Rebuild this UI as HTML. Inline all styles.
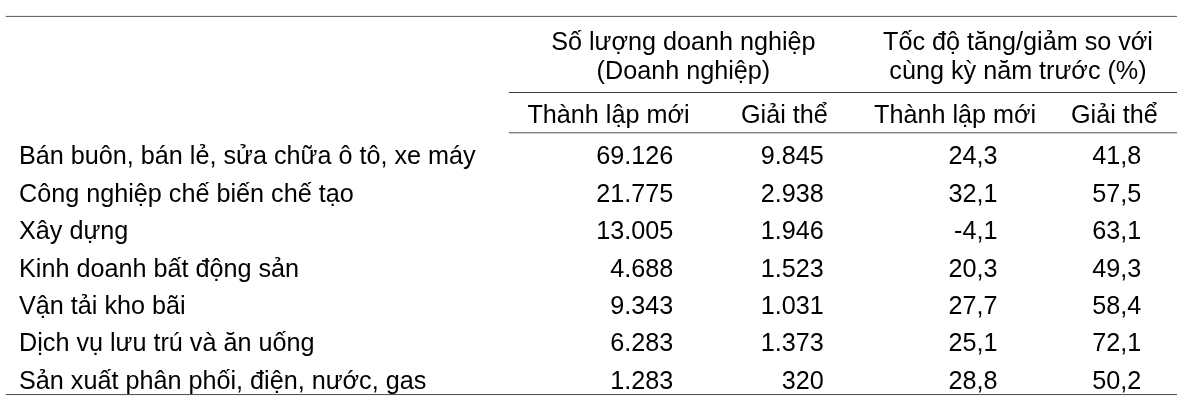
<!DOCTYPE html>
<html lang="vi">
<head>
<meta charset="utf-8">
<title>Bảng doanh nghiệp</title>
<style>
html,body{margin:0;padding:0;background:#fff;}
body{width:1200px;height:407px;position:relative;overflow:hidden;font-family:"Liberation Sans",Arial,sans-serif;font-size:25.2px;color:#000;}
.r{position:absolute;height:1px;background:#5a5a5a;}
.t{position:absolute;white-space:nowrap;line-height:30px;}
.c{text-align:center;}
.n{text-align:right;}
</style>
</head>
<body>
<svg width="1200" height="407" viewBox="0 0 1200 407" style="position:absolute;left:0;top:0" aria-hidden="true">
<rect x="5.7" y="15.9" width="1171.3" height="1" fill="#585858"/>
<rect x="508.9" y="92" width="668.1" height="1" fill="#3c3c3c"/>
<rect x="508.9" y="132.3" width="668.1" height="1" fill="#505050"/>
<rect x="5.7" y="394" width="1171.3" height="1.06" fill="#555555"/>
</svg>

<div class="t c" style="left:507.4px;width:352px;top:25.77px">Số lượng doanh nghiệp</div>
<div class="t c" style="left:507.4px;width:352px;top:54.97px">(Doanh nghiệp)</div>
<div class="t c" style="left:855px;width:326px;top:25.77px">Tốc độ tăng/giảm so với</div>
<div class="t c" style="left:855px;width:326px;top:54.97px">cùng kỳ năm trước (%)</div>

<div class="t" style="left:527.4px;top:98.77px">Thành lập mới</div>
<div class="t" style="left:741px;top:98.77px">Giải thể</div>
<div class="t" style="left:874px;top:98.77px">Thành lập mới</div>
<div class="t" style="left:1071px;top:98.77px">Giải thể</div>

<div class="t" style="left:19.0px;top:140.17px">Bán buôn, bán lẻ, sửa chữa ô tô, xe máy</div>
<div class="t n" style="left:543.3px;width:130px;top:140.17px">69.126</div>
<div class="t n" style="left:693.8px;width:130px;top:140.17px">9.845</div>
<div class="t n" style="left:867.5px;width:130px;top:140.17px">24,3</div>
<div class="t n" style="left:1011.2px;width:130px;top:140.17px">41,8</div>
<div class="t" style="left:19.0px;top:177.62px">Công nghiệp chế biến chế tạo</div>
<div class="t n" style="left:543.3px;width:130px;top:177.62px">21.775</div>
<div class="t n" style="left:693.8px;width:130px;top:177.62px">2.938</div>
<div class="t n" style="left:867.5px;width:130px;top:177.62px">32,1</div>
<div class="t n" style="left:1011.2px;width:130px;top:177.62px">57,5</div>
<div class="t" style="left:19.0px;top:215.07px">Xây dựng</div>
<div class="t n" style="left:543.3px;width:130px;top:215.07px">13.005</div>
<div class="t n" style="left:693.8px;width:130px;top:215.07px">1.946</div>
<div class="t n" style="left:867.5px;width:130px;top:215.07px">-4,1</div>
<div class="t n" style="left:1011.2px;width:130px;top:215.07px">63,1</div>
<div class="t" style="left:19.0px;top:252.52px">Kinh doanh bất động sản</div>
<div class="t n" style="left:543.3px;width:130px;top:252.52px">4.688</div>
<div class="t n" style="left:693.8px;width:130px;top:252.52px">1.523</div>
<div class="t n" style="left:867.5px;width:130px;top:252.52px">20,3</div>
<div class="t n" style="left:1011.2px;width:130px;top:252.52px">49,3</div>
<div class="t" style="left:19.0px;top:289.97px">Vận tải kho bãi</div>
<div class="t n" style="left:543.3px;width:130px;top:289.97px">9.343</div>
<div class="t n" style="left:693.8px;width:130px;top:289.97px">1.031</div>
<div class="t n" style="left:867.5px;width:130px;top:289.97px">27,7</div>
<div class="t n" style="left:1011.2px;width:130px;top:289.97px">58,4</div>
<div class="t" style="left:19.0px;top:327.42px">Dịch vụ lưu trú và ăn uống</div>
<div class="t n" style="left:543.3px;width:130px;top:327.42px">6.283</div>
<div class="t n" style="left:693.8px;width:130px;top:327.42px">1.373</div>
<div class="t n" style="left:867.5px;width:130px;top:327.42px">25,1</div>
<div class="t n" style="left:1011.2px;width:130px;top:327.42px">72,1</div>
<div class="t" style="left:19.0px;top:364.87px">Sản xuất phân phối, điện, nước, gas</div>
<div class="t n" style="left:543.3px;width:130px;top:364.87px">1.283</div>
<div class="t n" style="left:693.8px;width:130px;top:364.87px">320</div>
<div class="t n" style="left:867.5px;width:130px;top:364.87px">28,8</div>
<div class="t n" style="left:1011.2px;width:130px;top:364.87px">50,2</div>
</body>
</html>
